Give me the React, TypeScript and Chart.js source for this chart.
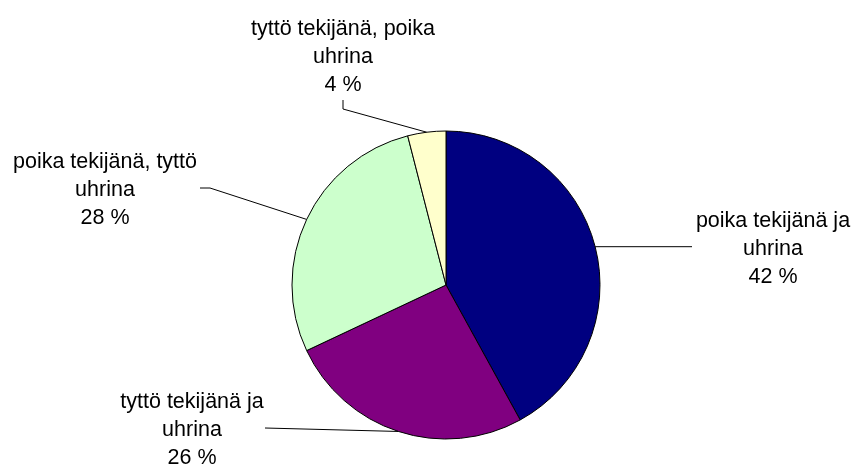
import React, { useEffect, useRef } from "react";
import { Chart, registerables } from "chart.js";

Chart.register(...registerables);

const CATEGORIES = [
  "poika tekijänä ja uhrina",
  "tyttö tekijänä ja uhrina",
  "poika tekijänä, tyttö uhrina",
  "tyttö tekijänä, poika uhrina",
];
const LABEL_LINES = [
  ["poika tekijänä ja", "uhrina"],
  ["tyttö tekijänä ja", "uhrina"],
  ["poika tekijänä, tyttö", "uhrina"],
  ["tyttö tekijänä, poika", "uhrina"],
];
const VALUES = [42, 26, 28, 4];
const COLORS = ["#000080", "#800080", "#CCFFCC", "#FFFFCC"];

// label placement relative to the pie centre (style only)
const LABEL_LAYOUT = [
  { tx: 327, ty: -58.5, leader: [[246, null]] },
  { tx: -254, ty: 123, leader: [[-181, 143]] },
  { tx: -341, ty: -117, leader: [[-236, -97], [-246, -97]] },
  { tx: -103, ty: -250, leader: [[-103, -176], [-103, -185]] },
];
const LINE_H = 28;
const FONT = "21.5px 'Liberation Sans', Arial, sans-serif";

const labelPlugin = {
  id: "pieLabels",
  afterDraw(chart: any) {
    const ctx = chart.ctx;
    const meta = chart.getDatasetMeta(0);
    const data = chart.data.datasets[0].data as number[];
    const total = data.reduce((a, b) => a + b, 0);
    ctx.save();
    meta.data.forEach((arc: any, i: number) => {
      const { x, y, startAngle, endAngle, outerRadius } = arc.getProps(
        ["x", "y", "startAngle", "endAngle", "outerRadius"],
        true
      );
      const mid = (startAngle + endAngle) / 2;
      const ax = x + outerRadius * Math.cos(mid);
      const ay = y + outerRadius * Math.sin(mid);
      const lay = LABEL_LAYOUT[i];
      ctx.strokeStyle = "#000";
      ctx.lineWidth = 1;
      ctx.beginPath();
      ctx.moveTo(ax, ay);
      lay.leader.forEach(([dx, dy]: any) => {
        ctx.lineTo(x + dx, dy === null ? ay : y + dy);
      });
      ctx.stroke();
      ctx.fillStyle = "#000";
      ctx.font = FONT;
      ctx.textAlign = "center";
      ctx.textBaseline = "alphabetic";
      const pct = Math.round((data[i] / total) * 100) + " %";
      const lines = [...LABEL_LINES[i], pct];
      lines.forEach((t, k) => {
        ctx.fillText(t, x + lay.tx, y + lay.ty + k * LINE_H);
      });
    });
    ctx.restore();
  },
};

export default function App() {
  const ref = useRef<HTMLCanvasElement>(null);
  useEffect(() => {
    if (!ref.current) return;
    const chart = new Chart(ref.current, {
      type: "pie",
      data: {
        labels: CATEGORIES,
        datasets: [
          {
            data: VALUES,
            backgroundColor: COLORS,
            borderColor: "#000",
            borderWidth: 1,
          },
        ],
      },
      options: {
        responsive: false,
        animation: false,
        layout: {
          padding: { left: 291.5, right: 255.5, top: 130.5, bottom: 28.5 },
        },
        plugins: {
          legend: { display: false },
          tooltip: { enabled: false },
        },
      },
      plugins: [labelPlugin],
    });
    return () => chart.destroy();
  }, []);
  return (
    <div style={{ position: "fixed", left: 0, top: 0, width: 856, height: 468, background: "#fff" }}>
      <canvas ref={ref} width={856} height={468} style={{ width: 856, height: 468 }} />
    </div>
  );
}
